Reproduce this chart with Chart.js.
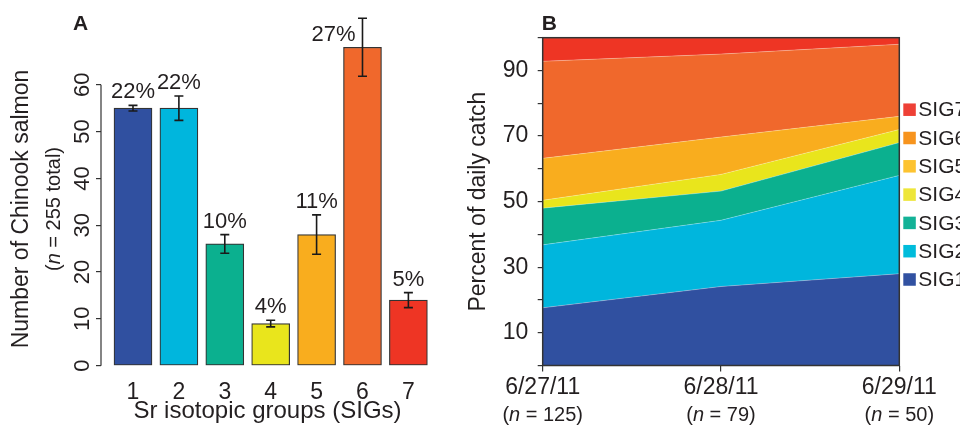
<!DOCTYPE html>
<html><head><meta charset="utf-8">
<script src="https://cdn.jsdelivr.net/npm/chart.js@4.4.1/dist/chart.umd.min.js"></script>
<style>
html,body{margin:0;padding:0;background:#fff;width:960px;height:426px;overflow:hidden;}
#a{position:absolute;left:0;top:0;width:460px;height:426px;}
#b{position:absolute;left:460px;top:0;width:500px;height:426px;}
canvas{display:block;}
</style></head><body>
<div id="a"><canvas id="ca" width="460" height="426"></canvas></div>
<div id="b"><canvas id="cb" width="500" height="426"></canvas></div>
<script>
// ---------- Panel A data ----------
const sigGroups = ['1','2','3','4','5','6','7'];
const sigCounts = [55, 55, 26, 9, 28, 68, 14];
const sigErrors = [0.6, 2.6, 2.0, 0.7, 4.2, 6.2, 1.6];
const sigPercentLabels = ['22%','22%','10%','4%','11%','27%','5%'];
const countTicks = [0, 10, 20, 30, 40, 50, 60];

// ---------- Panel B data ----------
const catchDates = ['6/27/11','6/28/11','6/29/11'];
const catchN = ['125','79','50'];
const sigNames = ['SIG1','SIG2','SIG3','SIG4','SIG5','SIG6','SIG7'];
const sig1 = [17.6, 24.1, 28.0];
const sig2 = [19.2, 20.2, 30.0];
const sig3 = [11.2, 8.9, 10.0];
const sig4 = [2.4, 5.1, 4.0];
const sig5 = [12.8, 11.4, 4.0];
const sig6 = [29.6, 25.3, 22.0];
const sig7 = [7.2, 5.0, 2.0];
const percentTicks = [0,10,20,30,40,50,60,70,80,90,100];
const percentTickLabels = [10, 30, 50, 70, 90];

// ---------- styles ----------
const FONT = "'Liberation Sans', Arial, Helvetica, sans-serif";
const TXT = '#231f20';
const AX = '#333333';
Chart.defaults.font.family = FONT;
Chart.defaults.color = TXT;
const sigColors = ['#3050a0','#00b6dd','#0bb08f','#e9e51c','#f9ad1e','#f0682c','#ee3524'];
const legendColors = ['#3151a1','#00bcdb','#13b297','#eee63a','#fdc330','#f7941e','#ee4036'];

function mixedText(ctx, parts, cx, cy, size) {
  let total = 0;
  const widths = parts.map(p => {
    ctx.font = (p[1] ? 'italic ' : '') + size + 'px ' + FONT;
    const w = ctx.measureText(p[0]).width; total += w; return w;
  });
  let x = cx - total / 2;
  ctx.textAlign = 'left';
  ctx.textBaseline = 'middle';
  parts.forEach((p, i) => {
    ctx.font = (p[1] ? 'italic ' : '') + size + 'px ' + FONT;
    ctx.fillText(p[0], x, cy);
    x += widths[i];
  });
}

// ---------- Panel A ----------
const panelA = {
  id: 'panelA',
  afterDatasetsDraw(chart) {
    const ctx = chart.ctx, ys = chart.scales.y, area = chart.chartArea;
    const meta = chart.getDatasetMeta(0);
    ctx.save();
    ctx.strokeStyle = AX; ctx.lineWidth = 1.2;
    ctx.beginPath();
    ctx.moveTo(area.left, ys.getPixelForValue(countTicks[0]));
    ctx.lineTo(area.left, ys.getPixelForValue(countTicks[countTicks.length - 1]));
    ctx.stroke();
    ctx.strokeStyle = '#1a1a1a'; ctx.lineWidth = 1.6;
    meta.data.forEach((bar, i) => {
      const x = bar.x;
      const yt = ys.getPixelForValue(sigCounts[i] + sigErrors[i]);
      const yb = ys.getPixelForValue(sigCounts[i] - sigErrors[i]);
      ctx.beginPath();
      ctx.moveTo(x, yt); ctx.lineTo(x, yb);
      ctx.moveTo(x - 4.5, yt); ctx.lineTo(x + 4.5, yt);
      ctx.moveTo(x - 4.5, yb); ctx.lineTo(x + 4.5, yb);
      ctx.stroke();
    });
    ctx.fillStyle = TXT;
    ctx.font = '22px ' + FONT;
    ctx.textBaseline = 'alphabetic';
    meta.data.forEach((bar, i) => {
      const yt = ys.getPixelForValue(sigCounts[i] + sigErrors[i]);
      if (yt - 28 < area.top) {
        ctx.textAlign = 'right';
        ctx.fillText(sigPercentLabels[i], bar.x - 7, bar.y - 6);
      } else {
        ctx.textAlign = 'center';
        ctx.fillText(sigPercentLabels[i], bar.x, yt - 7);
      }
    });
    ctx.font = 'bold 21px ' + FONT;
    ctx.textAlign = 'left';
    ctx.fillText('A', 73, 30);
    ctx.translate(0, 209);
    ctx.rotate(-Math.PI / 2);
    ctx.fillStyle = TXT;
    mixedText(ctx, [['Number of Chinook salmon', false]], 0, 22, 23);
    mixedText(ctx, [['(', false], ['n', true], [' = 255 total)', false]], 0, 54, 20);
    ctx.restore();
  }
};

new Chart(document.getElementById('ca'), {
  type: 'bar',
  data: {
    datasets: [{
      data: sigGroups.map((g, i) => ({ x: i + 1, y: sigCounts[i] })),
      backgroundColor: sigColors,
      borderColor: AX,
      borderWidth: 1.2,
      borderSkipped: false,
      barThickness: 38
    }]
  },
  options: {
    responsive: false,
    animation: false,
    layout: { padding: { top: 12.3, left: 0, right: 26, bottom: 0 } },
    plugins: { legend: { display: false }, tooltip: { enabled: false } },
    scales: {
      x: {
        type: 'linear', min: 0.303, max: 7.558, offset: false,
        afterBuildTicks: s => { s.ticks = sigGroups.map((g, i) => ({ value: i + 1 })); },
        afterFit: s => { s.height = 426 - 365.7; },
        grid: { display: false, offset: false }, border: { display: false },
        ticks: { callback: v => sigGroups[Math.round(v) - 1], font: { size: 23 }, padding: 5.5, maxRotation: 0, autoSkip: false, color: TXT },
        title: { display: true, text: 'Sr isotopic groups (SIGs)', font: { size: 24 }, color: TXT, padding: { top: 0, bottom: 0.6 } }
      },
      y: {
        min: 0, max: 75,
        afterBuildTicks: s => { s.ticks = countTicks.map(v => ({ value: v })); },
        afterFit: s => { s.width = 101; },
        grid: { display: true, drawOnChartArea: false, drawTicks: true, tickLength: 5, color: AX, lineWidth: 1.2 },
        border: { display: false },
        ticks: { minRotation: 90, maxRotation: 90, crossAlign: 'center', padding: 1.3, font: { size: 22 }, color: TXT }
      }
    }
  },
  plugins: [panelA]
});

// ---------- Panel B ----------
const sigSeries = [sig1, sig2, sig3, sig4, sig5, sig6, sig7];
const panelB = {
  id: 'panelB',
  afterDatasetsDraw(chart) {
    const ctx = chart.ctx, area = chart.chartArea, xs = chart.scales.x;
    ctx.save();
    ctx.strokeStyle = AX; ctx.lineWidth = 1.5;
    ctx.strokeRect(area.left, area.top, area.right - area.left, area.bottom - area.top);
    ctx.fillStyle = TXT;
    catchN.forEach((n, i) => {
      mixedText(ctx, [['(', false], ['n', true], [' = ' + n + ')', false]], xs.getPixelForValue(i), 415, 20);
    });
    const sq = 12.5;
    const x0 = area.right + 4;
    ctx.font = '21px ' + FONT;
    for (let k = 0; k < sigNames.length; k++) {
      const idx = sigNames.length - 1 - k;
      const cy = area.top + 72 + k * 28.3;
      ctx.fillStyle = legendColors[idx];
      ctx.fillRect(x0, cy - sq / 2, sq, sq);
      ctx.fillStyle = TXT;
      ctx.textAlign = 'left'; ctx.textBaseline = 'middle';
      ctx.fillText(chart.data.datasets[idx].label, x0 + sq + 2.5, cy + 1);
    }
    ctx.font = 'bold 21px ' + FONT;
    ctx.textAlign = 'left'; ctx.textBaseline = 'alphabetic';
    ctx.fillText('B', 81.7, 30);
    ctx.restore();
  }
};

new Chart(document.getElementById('cb'), {
  type: 'line',
  data: {
    labels: catchDates,
    datasets: sigNames.map((name, i) => ({
      label: name,
      data: sigSeries[i],
      backgroundColor: sigColors[i],
      borderColor: 'rgba(255,255,255,0.35)',
      borderWidth: 0.8,
      fill: i === 0 ? 'origin' : '-1',
      pointRadius: 0,
      tension: 0
    }))
  },
  options: {
    responsive: false,
    animation: false,
    layout: { padding: { top: 37.7, left: 0, right: 60.7, bottom: 0 } },
    plugins: { legend: { display: false }, tooltip: { enabled: false } },
    scales: {
      x: {
        type: 'category', offset: false,
        afterFit: s => { s.height = 426 - 365.5; },
        grid: { display: true, drawOnChartArea: false, drawTicks: true, tickLength: 6, color: AX, lineWidth: 1.2, offset: false },
        border: { display: false },
        ticks: { font: { size: 23 }, padding: 2.7, maxRotation: 0, autoSkip: false, color: TXT }
      },
      y: {
        stacked: true, min: 0, max: 100,
        afterBuildTicks: s => { s.ticks = percentTicks.map(v => ({ value: v })); },
        afterFit: s => { s.width = 82.7; },
        grid: { display: true, drawOnChartArea: false, drawTicks: true, tickLength: 5, color: AX, lineWidth: 1.2 },
        border: { display: false },
        ticks: { callback: v => percentTickLabels.includes(v) ? String(v) : '', font: { size: 23 }, padding: 9.4, color: TXT },
        title: { display: true, text: 'Percent of daily catch', font: { size: 23 }, color: TXT, padding: { top: 5.2, bottom: 0 } }
      }
    }
  },
  plugins: [panelB]
});
</script>
</body></html>
